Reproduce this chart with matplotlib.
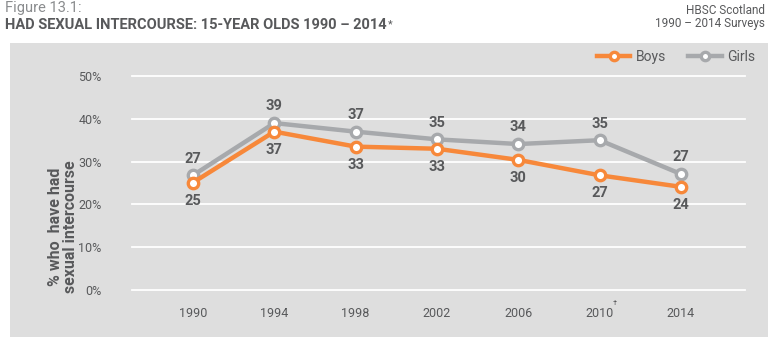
import matplotlib.pyplot as plt
from matplotlib.patches import Rectangle

years = [1990, 1994, 1998, 2002, 2006, 2010, 2014]
year_labels = ['1990', '1994', '1998', '2002', '2006', '2010', '2014']
boys = [25.1, 37.0, 33.5, 33.0, 30.4, 26.8, 24.1]
girls = [26.8, 39.0, 37.0, 35.2, 34.1, 35.0, 27.1]
boys_lbl = ['25', '37', '33', '33', '30', '27', '24']
girls_lbl = ['27', '39', '37', '35', '34', '35', '27']
yticks = [0, 10, 20, 30, 40, 50]

plt.rcParams['font.family'] = ['Roboto', 'DejaVu Sans']
txt = '#58595b'
orange = '#f7883a'
grey = '#a7a9ac'
panel = '#dedede'

fig = plt.figure(figsize=(7.68, 3.4), dpi=100)
fig.patches.append(Rectangle((10/768, 3/340), 1 - 10/768, (340 - 43 - 3)/340,
                             transform=fig.transFigure, facecolor=panel,
                             edgecolor='none', zorder=-5))

ax = fig.add_axes([132/768, (340 - 290)/340, (745 - 132)/768, (290 - 76)/340])
ax.set_zorder(2)
ax.set_facecolor('none')
ax.set_xlim(1987.0, 2017.15)
ax.set_ylim(0, 50)
for s in ax.spines.values():
    s.set_visible(False)
for v in yticks:
    ax.axhline(v, color='white', lw=1.3, zorder=1, clip_on=False)
ax.set_yticks(yticks)
ax.set_yticklabels([f'{v}%' for v in yticks], color=txt, fontsize=9)
ax.set_xticks(years)
ax.set_xticklabels(year_labels, color=txt, fontsize=9)
ax.tick_params(length=0)
ax.tick_params(axis='y', pad=22)
ax.tick_params(axis='x', pad=12)
ax.annotate('†', xy=(2010, 0), xycoords='data', xytext=(11, -9.5),
            textcoords='offset points', fontsize=5.5, color=txt, ha='center', va='center')

mk = dict(marker='o', markersize=7.5, markerfacecolor='white', markeredgewidth=2.4)
ax.plot(years, girls, color=grey, lw=3.2, markeredgecolor=grey, label='Girls', zorder=3, clip_on=False, **mk)
ax.plot(years, boys, color=orange, lw=3.2, markeredgecolor=orange, label='Boys', zorder=4, clip_on=False, **mk)

for x, y, t in zip(years, girls, girls_lbl):
    ax.annotate(t, (x, y), xytext=(0, 12), textcoords='offset points', ha='center', va='center',
                fontsize=10.5, fontweight='bold', color=txt)
for x, y, t in zip(years, boys, boys_lbl):
    ax.annotate(t, (x, y), xytext=(0, -13), textcoords='offset points', ha='center', va='center',
                fontsize=10.5, fontweight='bold', color=txt)

h, l = ax.get_legend_handles_labels()
fig.legend(h[::-1], l[::-1], loc='center right', bbox_to_anchor=(1.0, 1 - 57/340), ncol=2,
           frameon=False, fontsize=10, labelcolor=txt, handlelength=2.4, columnspacing=1.6,
           handletextpad=0.4, markerscale=0.8)

fig.text(63/768, 1 - 227/340, '% who  have had\nsexual intercourse', rotation=90, ha='center', va='center',
         fontsize=11.5, fontweight='bold', color=txt, linespacing=1.0)

fig.text(5/768, 1 - 8/340, 'Figure 13.1:', fontsize=10.5, color='#8a8c8e', va='center', ha='left')
title = fig.text(5/768, 1 - 25/340, 'HAD SEXUAL INTERCOURSE: 15-YEAR OLDS 1990 – 2014', fontsize=10.5,
                 fontweight='bold', color=txt, va='center', ha='left')
ax.annotate('*', xy=(1, 1), xycoords=title, xytext=(1, -1), textcoords='offset points',
            fontsize=8, color=txt, ha='left', va='top', annotation_clip=False)

fig.text(765/768, 1 - 11/340, 'HBSC Scotland', fontsize=8.5, color=txt, ha='right', va='center')
fig.text(765/768, 1 - 23/340, '1990 – 2014 Surveys', fontsize=8.5, color=txt, ha='right', va='center')

fig.savefig('out.png', dpi=100)
